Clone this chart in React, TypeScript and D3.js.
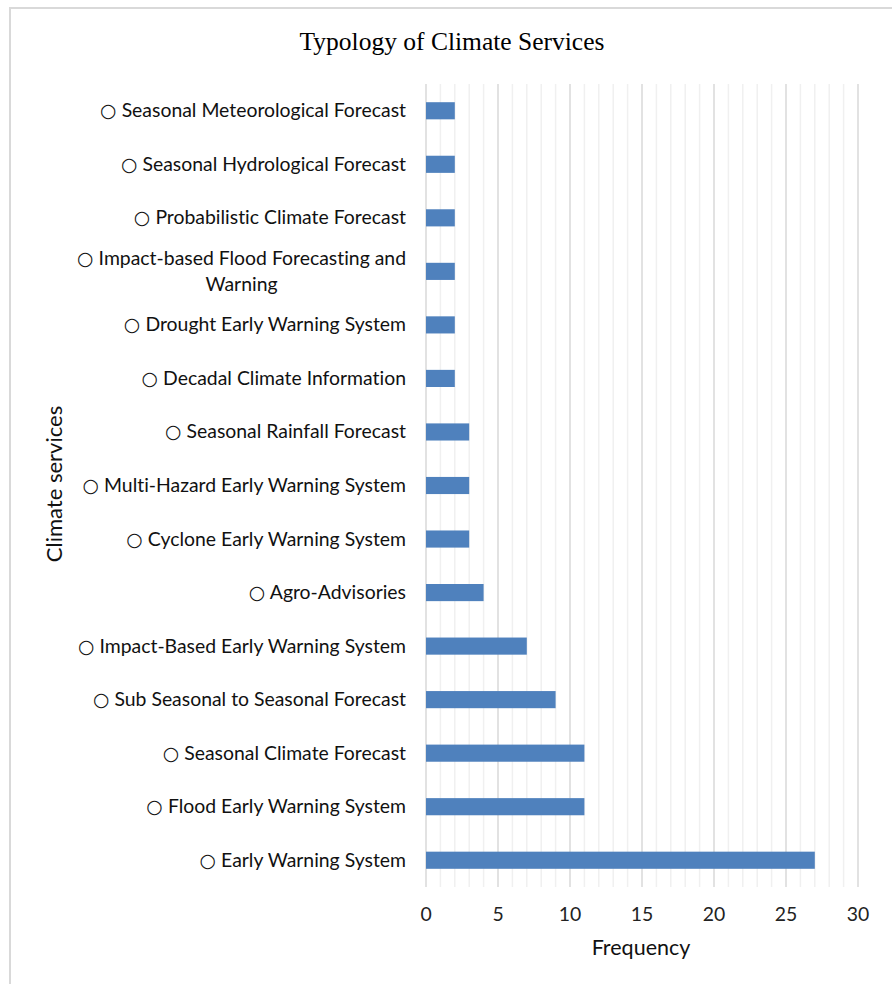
import React, { useEffect, useRef } from "react";
import * as d3 from "d3";

// Climate service categories, top to bottom (multi-line labels split with "\n")
const services = [
  "Seasonal Meteorological Forecast",
  "Seasonal Hydrological Forecast",
  "Probabilistic Climate Forecast",
  "Impact-based Flood Forecasting and\nWarning",
  "Drought Early Warning System",
  "Decadal Climate Information",
  "Seasonal Rainfall Forecast",
  "Multi-Hazard Early Warning System",
  "Cyclone Early Warning System",
  "Agro-Advisories",
  "Impact-Based Early Warning System",
  "Sub Seasonal to Seasonal Forecast",
  "Seasonal Climate Forecast",
  "Flood Early Warning System",
  "Early Warning System",
];

// Number of occurrences of each service
const frequency = [2, 2, 2, 2, 2, 2, 3, 3, 3, 4, 7, 9, 11, 11, 27];

const xTicks = [0, 5, 10, 15, 20, 25, 30];

const W = 892;
const H = 984;
const LABEL_FONT = "Lato, 'Open Sans', sans-serif";
const LABEL_SIZE = 19.4;

export default function App() {
  const ref = useRef<SVGSVGElement | null>(null);

  useEffect(() => {
    const svg = d3.select(ref.current);
    svg.selectAll("*").remove();
    svg.style("font-variant-ligatures", "none");

    const left = 426;
    const right = 858;
    const top = 84;
    const bottom = 887;

    const x = d3.scaleLinear().domain([0, 30]).range([left, right]);
    const y = d3
      .scaleBand<string>()
      .domain(services)
      .range([top, bottom])
      .paddingInner(0.68)
      .paddingOuter(0.34);

    svg.append("rect").attr("width", W).attr("height", H).attr("fill", "#fff");

    // Chart frame
    svg
      .append("rect")
      .attr("x", 10)
      .attr("y", 8)
      .attr("width", W + 20)
      .attr("height", H + 20)
      .attr("fill", "none")
      .attr("stroke", "#d9d9d9")
      .attr("stroke-width", 2);

    // Title
    svg
      .append("text")
      .attr("x", 452)
      .attr("y", 50)
      .attr("text-anchor", "middle")
      .attr("font-family", "'Liberation Serif', 'Times New Roman', serif")
      .attr("font-size", 25.5)
      .attr("fill", "#000")
      .text("Typology of Climate Services");

    // Minor and major vertical gridlines
    const g = svg.append("g");
    const minor = d3.range(0, 31).filter((v) => v % 5 !== 0);
    g.selectAll("line.minor")
      .data(minor)
      .join("line")
      .attr("x1", (d) => x(d))
      .attr("x2", (d) => x(d))
      .attr("y1", top)
      .attr("y2", bottom)
      .attr("stroke", "#f0f0f0")
      .attr("stroke-width", 1.5);
    g.selectAll("line.major")
      .data(xTicks)
      .join("line")
      .attr("x1", (d) => x(d))
      .attr("x2", (d) => x(d))
      .attr("y1", top)
      .attr("y2", bottom)
      .attr("stroke", "#d9d9d9")
      .attr("stroke-width", 1.5);

    // Bars
    svg
      .append("g")
      .selectAll("rect")
      .data(services)
      .join("rect")
      .attr("x", x(0))
      .attr("y", (d) => y(d)!)
      .attr("width", (_d, i) => x(frequency[i]) - x(0))
      .attr("height", y.bandwidth())
      .attr("fill", "#4f81bd");

    // X tick labels
    svg
      .append("g")
      .selectAll("text")
      .data(xTicks)
      .join("text")
      .attr("x", (d) => x(d))
      .attr("y", 921)
      .attr("text-anchor", "middle")
      .attr("font-family", LABEL_FONT)
      .attr("font-size", LABEL_SIZE)
      .attr("fill", "#222")
      .text((d) => String(d));

    // Category labels, right-aligned; wrapped lines centred under the first
    const labelX = 406;
    const lg = svg.append("g");
    services.forEach((s) => {
      const lines = s.split("\n");
      const cy = y(s)! + y.bandwidth() / 2;
      const lh = 26;
      const y0 = cy - ((lines.length - 1) * lh) / 2 + 6.5;
      const first = lg
        .append("text")
        .attr("x", labelX)
        .attr("y", y0)
        .attr("text-anchor", "end")
        .attr("font-family", LABEL_FONT)
        .attr("font-size", LABEL_SIZE)
        .attr("fill", "#111");
      first
        .append("tspan")
        .attr("font-family", "'DejaVu Sans', sans-serif")
        .attr("font-size", 19)
        .text("\u25CB");
      first.append("tspan").text(" " + lines[0]);
      if (lines.length > 1) {
        const w = (first.node() as SVGTextElement).getComputedTextLength();
        const cx = labelX - w / 2;
        lines.slice(1).forEach((ln, k) => {
          lg.append("text")
            .attr("x", cx)
            .attr("y", y0 + lh * (k + 1))
            .attr("text-anchor", "middle")
            .attr("font-family", LABEL_FONT)
            .attr("font-size", LABEL_SIZE)
            .attr("fill", "#111")
            .text(ln);
        });
      }
    });

    // Axis titles
    svg
      .append("text")
      .attr("x", 641)
      .attr("y", 955)
      .attr("text-anchor", "middle")
      .attr("font-family", LABEL_FONT)
      .attr("font-size", 21.5)
      .attr("fill", "#111")
      .text("Frequency");

    svg
      .append("text")
      .attr("transform", `translate(62, 484) rotate(-90)`)
      .attr("text-anchor", "middle")
      .attr("font-family", LABEL_FONT)
      .attr("font-size", 22)
      .attr("fill", "#111")
      .text("Climate services");
  }, []);

  return (
    <svg
      ref={ref}
      width={W}
      height={H}
      style={{ position: "absolute", left: 0, top: 0, display: "block" }}
    />
  );
}
